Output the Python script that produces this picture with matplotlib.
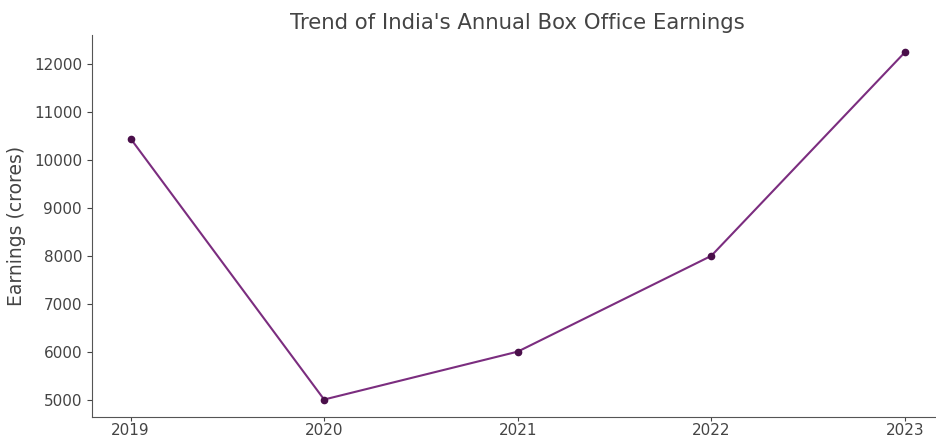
import matplotlib
matplotlib.use("Agg")
import matplotlib.pyplot as plt

years = [2019, 2020, 2021, 2022, 2023]
earnings = [10450, 5000, 6000, 8000, 12250]

txt = "#444444"
plt.rcParams["text.color"] = txt
plt.rcParams["axes.labelcolor"] = txt
plt.rcParams["xtick.color"] = txt
plt.rcParams["ytick.color"] = txt

fig = plt.figure(figsize=(9.37, 4.37), dpi=100)
ax = fig.add_axes([0.098, 0.046, 0.909, 0.874])

ax.plot(years, earnings, color="#7b2d7f", linewidth=1.5, marker="o",
        markersize=4.5, markerfacecolor="#4a0f4a", markeredgecolor="#4a0f4a")

ax.set_xticks(years)
ax.set_xticklabels([str(y) for y in years])
ax.tick_params(labelsize=11)
ax.tick_params(axis="x", length=3, pad=1.5)
ax.set_ylabel("Earnings (crores)", fontsize=13.5, labelpad=6)
ax.set_title("Trend of India's Annual Box Office Earnings", fontsize=15.3, pad=4)

for s in ["top", "right"]:
    ax.spines[s].set_visible(False)
for s in ["left", "bottom"]:
    ax.spines[s].set_color("#555555")

fig.savefig("out.png", dpi=100)
